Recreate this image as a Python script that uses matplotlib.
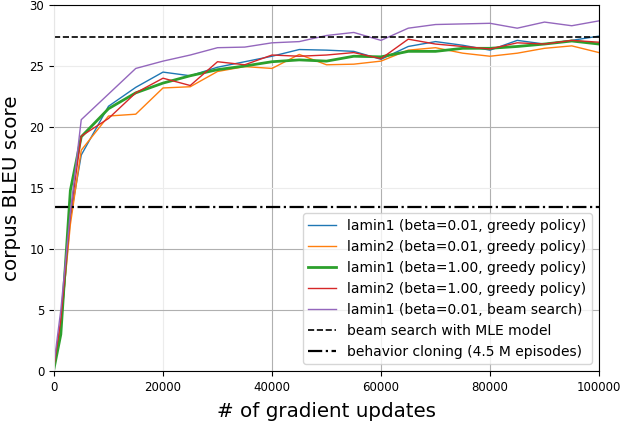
import matplotlib
matplotlib.use("Agg")
import matplotlib.pyplot as plt

steps = [0, 1250, 3000, 5000, 10000, 15000, 20000, 25000, 30000, 35000, 40000,
         45000, 50000, 55000, 60000, 65000, 70000, 75000, 80000, 85000, 90000,
         95000, 100000]

lamin1_b001_greedy = [0.3, 3.5, 12.5, 17.7, 21.7, 23.25, 24.5, 24.2, 24.9, 25.35, 25.8,
                      26.35, 26.3, 26.2, 25.55, 26.6, 27.0, 26.7, 26.3, 27.1, 26.8,
                      27.1, 27.45]
lamin2_b001_greedy = [0.3, 3.8, 12.0, 18.1, 20.9, 21.05, 23.2, 23.3, 24.55, 24.95, 24.8,
                      25.95, 25.1, 25.15, 25.4, 26.3, 26.5, 26.05, 25.8, 26.05, 26.45,
                      26.65, 26.1]
lamin1_b100_greedy = [0.2, 3.0, 14.8, 19.2, 21.5, 22.8, 23.6, 24.2, 24.7, 25.0, 25.35,
                      25.5, 25.4, 25.8, 25.75, 26.2, 26.2, 26.45, 26.45, 26.6, 26.8,
                      27.05, 26.8]
lamin2_b100_greedy = [0.4, 4.2, 12.8, 19.25, 20.7, 22.8, 24.0, 23.4, 25.35, 25.1, 25.9,
                      25.8, 25.9, 26.1, 25.6, 27.2, 26.8, 26.6, 26.4, 26.9, 26.8,
                      27.1, 26.95]
lamin1_b001_beam = [0.6, 5.0, 13.0, 20.6, 22.7, 24.8, 25.4, 25.9, 26.5, 26.55, 26.9,
                    27.0, 27.5, 27.75, 27.1, 28.1, 28.4, 28.45, 28.5, 28.1, 28.6,
                    28.3, 28.7]

mle_beam_bleu = 27.35
behavior_cloning_bleu = 13.45

labels = ["lamin1 (beta=0.01, greedy policy)",
          "lamin2 (beta=0.01, greedy policy)",
          "lamin1 (beta=1.00, greedy policy)",
          "lamin2 (beta=1.00, greedy policy)",
          "lamin1 (beta=0.01, beam search)",
          "beam search with MLE model",
          "behavior cloning (4.5 M episodes)"]

xticks = [0, 20000, 40000, 60000, 80000, 100000]
yticks = [0, 5, 10, 15, 20, 25, 30]

fig = plt.figure(figsize=(6.22, 4.26), dpi=100)
ax = fig.add_axes([54 / 622, 1 - 371 / 426, 545 / 622, 366 / 426])

series = [lamin1_b001_greedy, lamin2_b001_greedy, lamin1_b100_greedy,
          lamin2_b100_greedy, lamin1_b001_beam]
colors = ["#1f77b4", "#ff7f0e", "#2ca02c", "#d62728", "#9467bd"]
widths = [1.0, 1.0, 2.0, 1.0, 1.0]
for ys, c, w, lab in zip(series, colors, widths, labels[:5]):
    ax.plot(steps, ys, color=c, lw=w, label=lab)

ax.axhline(mle_beam_bleu, color="black", ls="--", lw=1.2, label=labels[5])
ax.axhline(behavior_cloning_bleu, color="black", ls="-.", lw=1.6, label=labels[6])

ax.set_xlim(0, 100000)
ax.set_ylim(0, 30)
ax.set_xticks(xticks)
ax.set_yticks(yticks)
ax.tick_params(labelsize=8.5, length=3.5)
ax.grid(True, color="#b0b0b0", lw=0.8)
ax.set_axisbelow(True)
for gl, t in zip(ax.get_xgridlines(), xticks):
    if t in (0, 20000):
        gl.set_color("#ececec")
for gl, t in zip(ax.get_ygridlines(), yticks):
    if t in (15, 25):
        gl.set_color("#ececec")
ax.spines["left"].set_color("#e6e6e6")

ax.set_xlabel("# of gradient updates", fontsize=14.3, labelpad=6)
ax.set_ylabel("corpus BLEU score", fontsize=14.3, labelpad=6)

ax.legend(loc="lower right", fontsize=10, handlelength=2.0)

fig.savefig("out.png", dpi=100)
